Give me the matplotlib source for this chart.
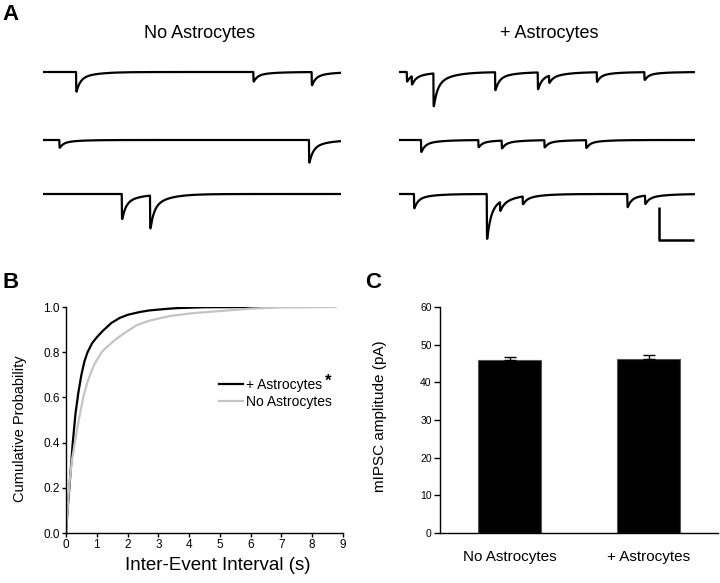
"""mIPSC figure: example traces, inter-event interval CDF and amplitude bars."""
import numpy as np
import matplotlib
matplotlib.use("Agg")
import matplotlib.pyplot as plt

plt.rcParams["font.family"] = ["Liberation Sans", "DejaVu Sans"]

W, H = 720, 583

# --- panel A: example traces, events as (time s, amplitude pA) per row ---
TRACE_DUR = 2.1
no_astro_events = [
    [(0.233, 33), (1.482, 16), (1.893, 22)],
    [(0.115, 13), (1.874, 38)],
    [(0.555, 42), (0.754, 55)],
]
astro_events = [
    [(0.053, 16), (0.088, 14), (0.242, 55), (0.680, 30), (0.983, 28),
     (1.063, 12), (1.402, 16), (1.740, 13)],
    [(0.154, 20), (0.561, 12), (0.727, 13), (1.030, 12), (1.326, 13)],
    [(0.104, 24), (0.621, 75), (0.715, 15), (0.876, 13), (1.619, 22),
     (1.745, 14)],
]
row_offsets = [0, -102, -183]
scalebar_t, scalebar_pa = 0.25, 50

# --- panel B: cumulative probability of inter-event interval ---
astro_iei = [0, 0.05, 0.11, 0.22, 0.31, 0.40, 0.50, 0.60, 0.70, 0.85, 1.0,
             1.2, 1.48, 1.75, 2.02, 2.4, 2.72, 3.2, 3.6, 4.5, 6.35]
astro_cdf = [0, 0.10, 0.20, 0.40, 0.53, 0.62, 0.70, 0.76, 0.80, 0.84, 0.866,
             0.895, 0.93, 0.952, 0.966, 0.978, 0.985, 0.991, 0.995, 0.999, 1.0]
no_astro_iei = [0, 0.05, 0.10, 0.19, 0.29, 0.40, 0.56, 0.70, 0.89, 1.0, 1.16,
                1.3, 1.6, 1.9, 2.3, 2.72, 3.37, 4.13, 5.0, 6.0, 7.0, 8.76]
no_astro_cdf = [0, 0.10, 0.20, 0.32, 0.40, 0.49, 0.60, 0.67, 0.737, 0.765, 0.80,
                0.82, 0.855, 0.885, 0.92, 0.94, 0.96, 0.973, 0.982, 0.993,
                0.998, 1.0]

# --- panel C: mean mIPSC amplitude ---
groups = ["No Astrocytes", "+ Astrocytes"]
amp_mean = [46.0, 46.3]
amp_sem = [0.8, 0.85]


def box(x0, y0, x1, y1):
    """pixel box (top-left origin) -> figure fraction rect"""
    return [x0 / W, 1 - y1 / H, (x1 - x0) / W, (y1 - y0) / H]


def trace(events, t):
    y = np.zeros_like(t)
    for t0, a in events:
        dt = t - t0
        m = dt >= 0
        k = (1 - np.exp(-dt[m] / 0.0008)) * (0.65 * np.exp(-dt[m] / 0.025)
                                            + 0.35 * np.exp(-dt[m] / 0.11))
        y[m] -= a * k
    return y


fig = plt.figure(figsize=(W / 100, H / 100), dpi=100)

t = np.arange(0, TRACE_DUR, 0.0004)
axL = fig.add_axes(box(43, 60, 341, 250))
axR = fig.add_axes(box(399.3, 60, 695, 250))
for ax, rows in ((axL, no_astro_events), (axR, astro_events)):
    for ev, off in zip(rows, row_offsets):
        ax.plot(t, trace(ev, t) + off, color="black", lw=1.6)
    ax.set_xlim(0, TRACE_DUR)
    ax.set_ylim(-267, 18)
    ax.axis("off")
sb_x = TRACE_DUR - scalebar_t - 0.004
sb_y = -252
axR.plot([sb_x, sb_x, sb_x + scalebar_t], [sb_y + scalebar_pa, sb_y, sb_y],
         color="black", lw=1.8, solid_capstyle="butt")

fig.text(200 / W, 1 - 33 / H, "No Astrocytes", ha="center", va="center", fontsize=13)
fig.text(549 / W, 1 - 33 / H, "+ Astrocytes", ha="center", va="center", fontsize=13)

# panel B
axB = fig.add_axes(box(66, 307, 343, 533))
axB.plot(astro_iei, astro_cdf, color="black", lw=1.6, label="+ Astrocytes")
axB.plot(no_astro_iei, no_astro_cdf, color="#c4c4c4", lw=1.6, label="No Astrocytes")
axB.set_xlim(0, 9)
axB.set_ylim(0, 1.0)
axB.set_xticks(range(10))
axB.set_yticks(np.arange(0, 1.01, 0.2))
axB.set_yticklabels([f"{v:.1f}" for v in np.arange(0, 1.01, 0.2)])
axB.tick_params(labelsize=8.5, length=3, width=1, pad=1.5)
axB.set_xlabel("Inter-Event Interval (s)", fontsize=13.5)
axB.xaxis.label.set_va("center")
axB.xaxis.set_label_coords(0.547, -0.145)
axB.set_ylabel("Cumulative Probability", fontsize=10.5)
axB.yaxis.label.set_va("center")
axB.yaxis.set_label_coords(-0.166, 0.46)
leg = axB.legend(loc="center left", bbox_to_anchor=(0.553, 0.617), frameon=False,
                 fontsize=10, handlelength=1.75, handletextpad=0.15,
                 labelspacing=0.22, borderpad=0, borderaxespad=0)
axB.text(0.946, 0.672, "*", transform=axB.transAxes, fontsize=12,
         fontweight="bold", ha="center", va="center")

# panel C
axC = fig.add_axes(box(440, 307, 718, 533))
x = np.arange(len(groups))
axC.bar(x, amp_mean, width=0.46, color="black", edgecolor="#555555", lw=0.8,
        yerr=[[0, 0], amp_sem], error_kw=dict(ecolor="black", elinewidth=1,
                                               capsize=4.5, capthick=1))
axC.set_xlim(-0.5, 1.5)
axC.set_ylim(0, 60)
axC.set_yticks(range(0, 61, 10))
axC.set_xticks(x)
axC.set_xticklabels(groups, fontsize=11)
axC.tick_params(axis="x", length=0, pad=12.5)
axC.tick_params(axis="y", labelsize=7.5, length=4, width=1, pad=2)
axC.set_ylabel("mIPSC amplitude (pA)", fontsize=11)
axC.yaxis.label.set_va("center")
axC.yaxis.set_label_coords(-0.216, 0.515)

for ax in (axB, axC):
    for s in ("top", "right"):
        ax.spines[s].set_visible(False)
    for s in ("left", "bottom"):
        ax.spines[s].set_linewidth(1)

for xp, yp, s in ((2, 14, "A"), (2, 283, "B"), (365, 283, "C")):
    fig.text(xp / W, 1 - yp / H, s, fontsize=16, fontweight="bold",
             ha="left", va="center")

fig.savefig("out.png", dpi=100)
